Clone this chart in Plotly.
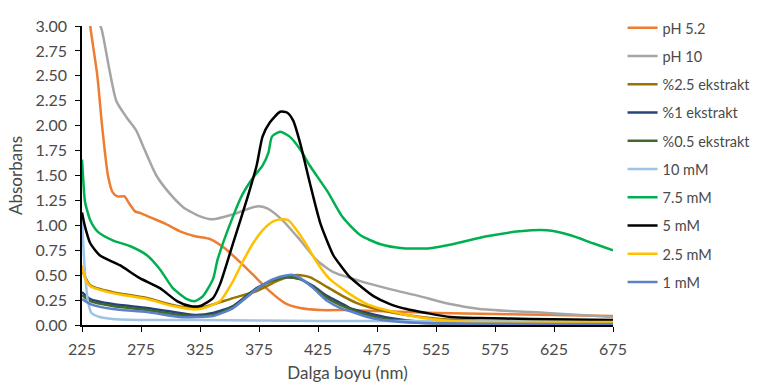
import plotly.graph_objects as go

# ---- data ----
ph52_x = [225, 232, 238, 242, 247, 251, 255, 261, 265, 270, 275, 283, 295, 308, 321, 334, 346, 359, 372, 384, 397, 410, 427, 450, 475, 525, 575, 625, 675]
ph52_y = [3.8, 3.0, 2.5, 2.0, 1.5, 1.33, 1.29, 1.29, 1.22, 1.14, 1.12, 1.08, 1.02, 0.94, 0.89, 0.86, 0.77, 0.63, 0.48, 0.34, 0.22, 0.17, 0.15, 0.15, 0.14, 0.12, 0.11, 0.10, 0.09]

ph10_x = [225, 238, 242, 254, 263, 271, 278, 288, 300, 311, 325, 336, 353, 373, 382, 395, 410, 424, 438, 461, 486, 511, 537, 562, 619, 675]
ph10_y = [4.5, 3.1, 2.95, 2.25, 2.08, 1.95, 1.76, 1.50, 1.31, 1.18, 1.09, 1.06, 1.11, 1.19, 1.17, 1.05, 0.85, 0.65, 0.53, 0.44, 0.36, 0.29, 0.21, 0.16, 0.12, 0.08]

e25_x = [225, 232, 251, 280, 302, 316, 325, 353, 373, 390, 401, 410, 418, 433, 446, 458, 478, 500, 528, 562, 675]
e25_y = [0.55, 0.40, 0.33, 0.27, 0.20, 0.17, 0.17, 0.27, 0.34, 0.44, 0.49, 0.50, 0.48, 0.38, 0.29, 0.22, 0.15, 0.10, 0.06, 0.04, 0.03]

e1_x = [225, 232, 251, 280, 308, 322, 336, 353, 373, 387, 399, 410, 421, 433, 446, 452, 467, 486, 514, 675]
e1_y = [0.33, 0.26, 0.21, 0.17, 0.12, 0.10, 0.12, 0.19, 0.37, 0.45, 0.48, 0.46, 0.39, 0.29, 0.21, 0.17, 0.12, 0.07, 0.03, 0.02]

e05_x = [225, 232, 251, 280, 308, 322, 336, 353, 373, 387, 399, 410, 421, 433, 446, 467, 486, 514, 675]
e05_y = [0.30, 0.24, 0.19, 0.15, 0.10, 0.09, 0.10, 0.18, 0.36, 0.45, 0.48, 0.46, 0.38, 0.27, 0.19, 0.10, 0.05, 0.02, 0.02]

m10_x = [225, 227.5, 230, 233, 240, 251, 280, 325, 425, 525, 675]
m10_y = [1.05, 0.53, 0.24, 0.12, 0.08, 0.06, 0.05, 0.05, 0.04, 0.04, 0.04]

m75_x = [225, 226, 227.5, 232, 238, 251, 266, 280, 291, 302, 314, 321, 327.5, 336, 340, 353, 361, 370, 378, 383, 386, 393, 401, 410, 418, 433, 446, 461, 478, 497, 520, 539, 568, 596, 619, 639, 658, 675]
m75_y = [1.66, 1.47, 1.24, 1.05, 0.94, 0.85, 0.79, 0.70, 0.56, 0.37, 0.26, 0.24, 0.29, 0.46, 0.66, 1.09, 1.31, 1.48, 1.60, 1.73, 1.89, 1.94, 1.89, 1.76, 1.60, 1.34, 1.08, 0.90, 0.81, 0.77, 0.77, 0.81, 0.89, 0.94, 0.95, 0.90, 0.82, 0.75]

m5_x = [225, 227.5, 232, 240, 257, 274, 291, 305.5, 316.5, 325, 336, 342, 353, 365, 373, 378, 384, 393, 399, 404, 410, 418, 427, 438, 444, 452, 461, 472, 486, 500, 517, 537, 562, 605, 675]
m5_y = [1.13, 0.99, 0.82, 0.70, 0.60, 0.47, 0.37, 0.24, 0.19, 0.19, 0.27, 0.41, 0.82, 1.27, 1.60, 1.89, 2.03, 2.14, 2.13, 2.05, 1.82, 1.43, 1.02, 0.70, 0.60, 0.48, 0.39, 0.29, 0.21, 0.16, 0.12, 0.08, 0.07, 0.06, 0.05]

m25_x = [225, 227.5, 232, 251, 280, 302, 316.5, 325, 342, 353, 361, 370, 378, 387, 394.5, 400, 407, 416, 424, 435, 446, 452, 466.5, 486, 509, 537, 562, 675]
m25_y = [0.60, 0.47, 0.39, 0.32, 0.26, 0.19, 0.16, 0.16, 0.24, 0.44, 0.63, 0.82, 0.95, 1.04, 1.06, 1.05, 0.95, 0.79, 0.63, 0.46, 0.36, 0.31, 0.21, 0.14, 0.08, 0.04, 0.03, 0.03]

m1_x = [225, 232, 251, 280, 308, 322, 336, 353, 373, 387, 399, 405, 410, 421, 433, 446, 452, 467, 486, 514, 675]
m1_y = [0.26, 0.21, 0.16, 0.13, 0.08, 0.08, 0.09, 0.17, 0.36, 0.46, 0.50, 0.50, 0.47, 0.37, 0.24, 0.16, 0.14, 0.08, 0.04, 0.02, 0.01]

names = ["pH 5.2", "pH 10", "%2.5 ekstrakt", "%1 ekstrakt", "%0.5 ekstrakt",
         "10 mM", "7.5 mM", "5 mM", "2.5 mM", "1 mM"]
colors = ["#ED7D31", "#A5A5A5", "#997300", "#264478", "#43682B",
          "#9DC3E6", "#00B050", "#000000", "#FFC000", "#5B82C8"]
series = [(ph52_x, ph52_y), (ph10_x, ph10_y), (e25_x, e25_y), (e1_x, e1_y), (e05_x, e05_y),
          (m10_x, m10_y), (m75_x, m75_y), (m5_x, m5_y), (m25_x, m25_y), (m1_x, m1_y)]

x_ticks = [225, 275, 325, 375, 425, 475, 525, 575, 625, 675]
y_ticks = [0, 0.25, 0.5, 0.75, 1.0, 1.25, 1.5, 1.75, 2.0, 2.25, 2.5, 2.75, 3.0]

FONT = "Lato"
TXT = "#4a4a4a"

fig = go.Figure()
for (xs, ys), n, c in zip(series, names, colors):
    fig.add_trace(go.Scatter(x=xs, y=ys, name=n, mode="lines", legendgroup=n,
                             line=dict(color=c, width=2.5, shape="spline", smoothing=0.6)))

fig.update_layout(
    width=768, height=389,
    margin=dict(l=82, r=155, t=15, b=64),
    paper_bgcolor="white", plot_bgcolor="white",
    font=dict(family=FONT, size=15, color=TXT),
    showlegend=True,
    legend=dict(x=1.018, xanchor="left", y=1.047, yanchor="top",
                font=dict(family=FONT, size=14.5, color=TXT),
                tracegroupgap=6.4, itemwidth=30, bgcolor="rgba(0,0,0,0)",
                maxheight=385),
)
fig.update_xaxes(range=[225, 675], tickvals=x_ticks, ticks="outside", ticklen=5,
                 tickcolor="black", showline=True, linecolor="black", linewidth=1.5,
                 showgrid=False, zeroline=False, ticklabelstandoff=4, automargin=False,
                 tickfont=dict(family=FONT, size=16, color=TXT),
                 title=dict(text="Dalga boyu (nm)", font=dict(family=FONT, size=17, color=TXT), standoff=10))
fig.update_yaxes(range=[0, 3], tickvals=y_ticks, tickformat=".2f", ticks="outside", ticklen=5,
                 tickcolor="black", showline=True, linecolor="black", linewidth=1.5,
                 showgrid=False, zeroline=False, ticklabelstandoff=5, automargin=False,
                 tickfont=dict(family=FONT, size=16, color=TXT),
                 title=dict(text="Absorbans", font=dict(family=FONT, size=17, color=TXT), standoff=8))

fig.write_html("out.html")
